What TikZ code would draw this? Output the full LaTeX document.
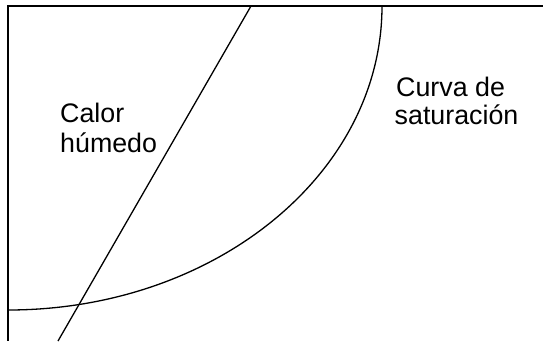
\documentclass[tikz,border=0pt]{standalone}
\usepackage{fontspec}
\setmainfont{Liberation Sans}
\tikzset{
  frame/.style={line width=1.3pt, black},
  curve/.style={line width=1.3pt, black},
  lbl/.style={inner sep=0pt, anchor=base west, font=\fontsize{26.8}{30}\selectfont}
}
\begin{document}
\begin{tikzpicture}[x=1pt,y=1pt]
\useasboundingbox (0,0) rectangle (543,341);
\clip (0,0) rectangle (543,341);
\coordinate (tl) at (8,335);
\coordinate (tr) at (543,335);
\coordinate (bl) at (8,0);
\draw[frame] (tr) -- (tl) -- (bl);
\coordinate (ltop) at (251,335);
\coordinate (lbot) at (58,0);
\draw[curve] (ltop) -- (lbot);
\coordinate (cstart) at (8,31);
\draw[curve] (cstart) arc[start angle=-90, end angle=0, x radius=374, y radius=304];
\node[lbl] (calor) at (60,219) {Calor};
\node[lbl] (humedo) at (60,189) {húmedo};
\node[lbl] (curva) at (396,244.3) {Curva de};
\node[lbl] (satur) at (394.5,217) {saturación};
\end{tikzpicture}
\end{document}
